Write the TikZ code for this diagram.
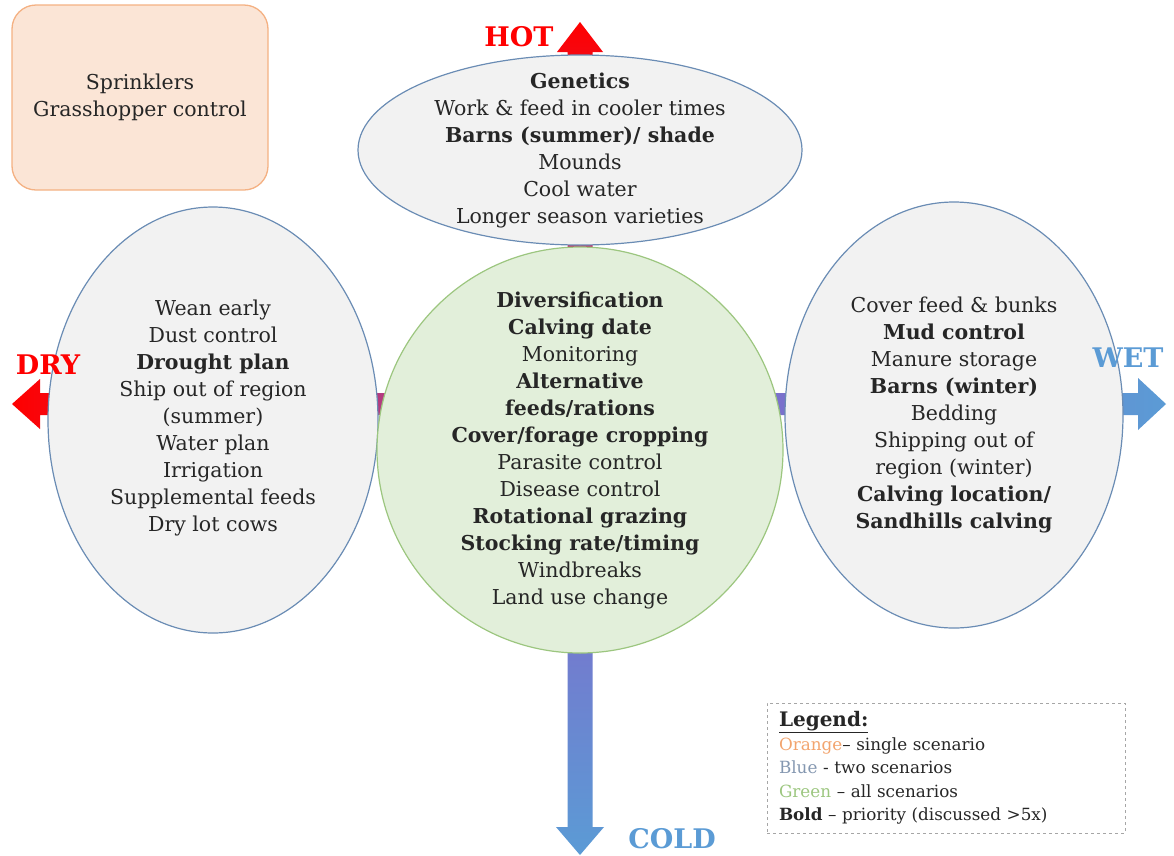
\documentclass[tikz,border=0pt]{standalone}
\usepackage{fontspec}
\setmainfont{DejaVu Serif}
\usetikzlibrary{shapes.geometric}

\definecolor{hotred}{HTML}{FF0000}
\definecolor{midpurple}{HTML}{8A5CC8}
\definecolor{coldblue}{HTML}{5B9BD5}
\definecolor{ovalfill}{HTML}{F2F2F2}
\definecolor{ovalline}{HTML}{6A8CB4}
\definecolor{allfill}{HTML}{E2EFDA}
\definecolor{allline}{HTML}{9CC67F}
\definecolor{onefill}{HTML}{FBE5D6}
\definecolor{oneline}{HTML}{F4B183}
\definecolor{txt}{HTML}{262626}
\definecolor{legorange}{HTML}{F2A46E}
\definecolor{legblue}{HTML}{8497B0}
\definecolor{leggreen}{HTML}{9CC67F}

\tikzset{
    oval/.style={ellipse, draw=ovalline, fill=ovalfill, line width=1.2pt, inner sep=0pt},
    allcircle/.style={circle, draw=allline, fill=allfill, line width=1.2pt, inner sep=0pt},
    bodytext/.style={align=center, text=txt, inner sep=0pt,
        font=\fontsize{20.5}{27}\selectfont},
    onebox/.style={rectangle, rounded corners=24pt, draw=oneline, fill=onefill,
        line width=1.3pt, align=center, text=txt,
        font=\fontsize{20.5}{27}\selectfont},
    axislabel/.style={font=\fontsize{27}{27}\selectfont\bfseries, inner sep=0pt},
    legendbox/.style={rectangle, draw=gray!70, dashed, line width=0.8pt,
        align=left, text width=334pt, inner xsep=12pt, text=txt,
        font=\fontsize{16.8}{23.5}\selectfont}
}

\begin{document}
\begin{tikzpicture}[x=1pt,y=-1pt]
    \useasboundingbox (0,0) rectangle (1174,855);

    % hot - cold axis
    \shade[top color=hotred, bottom color=coldblue, middle color=midpurple]
        (567.5,52) -- (557,52) -- (580,22) -- (603,52) -- (592.5,52)
        -- (592.5,827) -- (604,827) -- (580,855) -- (556,827) -- (567.5,827) -- cycle;
    % dry - wet axis
    \shade[left color=hotred, right color=coldblue, middle color=midpurple]
        (40,393) -- (40,379) -- (12,404) -- (40,429) -- (40,415)
        -- (1138,415) -- (1138,430) -- (1166,404) -- (1138,378) -- (1138,393) -- cycle;

    \node[onebox, minimum width=256pt, minimum height=185pt] (single) at (140,97.5)
        {Sprinklers\\Grasshopper control};

    % scenario ovals
    \node[oval, minimum width=444pt, minimum height=190pt] (hot) at (580,150) {};
    \node[oval, minimum width=330pt, minimum height=426pt] (dry) at (213,420) {};
    \node[oval, minimum width=338pt, minimum height=426pt] (wet) at (954,415) {};
    \node[allcircle, minimum size=406pt] (all) at (580,450) {};

    \node[bodytext] (hottext) at (hot.center) {
        \textbf{Genetics}\\
        Work \& feed in cooler times\\
        \textbf{Barns (summer)/ shade}\\
        Mounds\\
        Cool water\\
        Longer season varieties};

    \node[bodytext] (drytext) at ([yshift=2pt]dry.center) {
        Wean early\\
        Dust control\\
        \textbf{Drought plan}\\
        Ship out of region\\
        (summer)\\
        Water plan\\
        Irrigation\\
        Supplemental feeds\\
        Dry lot cows};

    \node[bodytext] (wettext) at (wet.center) {
        Cover feed \& bunks\\
        \textbf{Mud control}\\
        Manure storage\\
        \textbf{Barns (winter)}\\
        Bedding\\
        Shipping out of\\
        region (winter)\\
        \textbf{Calving location/}\\
        \textbf{Sandhills calving}};

    \node[bodytext] (alltext) at (all.center) {
        \textbf{Diversification}\\
        \textbf{Calving date}\\
        Monitoring\\
        \textbf{Alternative}\\
        \textbf{feeds/rations}\\
        \textbf{Cover/forage cropping}\\
        Parasite control\\
        Disease control\\
        \textbf{Rotational grazing}\\
        \textbf{Stocking rate/timing}\\
        Windbreaks\\
        Land use change};

    % axis labels
    \node[axislabel, text=hotred] (hotlbl) at (519,37) {HOT};
    \node[axislabel, text=hotred] (drylbl) at (48,365) {DRY};
    \node[axislabel, text=coldblue] (wetlbl) at (1128,358) {WET};
    \node[axislabel, text=coldblue] (coldlbl) at (672,839) {COLD};

    % legend
    \node[legendbox, minimum height=130pt] (legend) at (946,768) {
        {\fontsize{20}{23.5}\selectfont\underline{\textbf{Legend:}}}\\
        \textcolor{legorange}{Orange}-- single scenario\\
        \textcolor{legblue}{Blue} - two scenarios\\
        \textcolor{leggreen}{Green} -- all scenarios\\
        \textbf{Bold} -- priority (discussed >5x)};
\end{tikzpicture}
\end{document}
